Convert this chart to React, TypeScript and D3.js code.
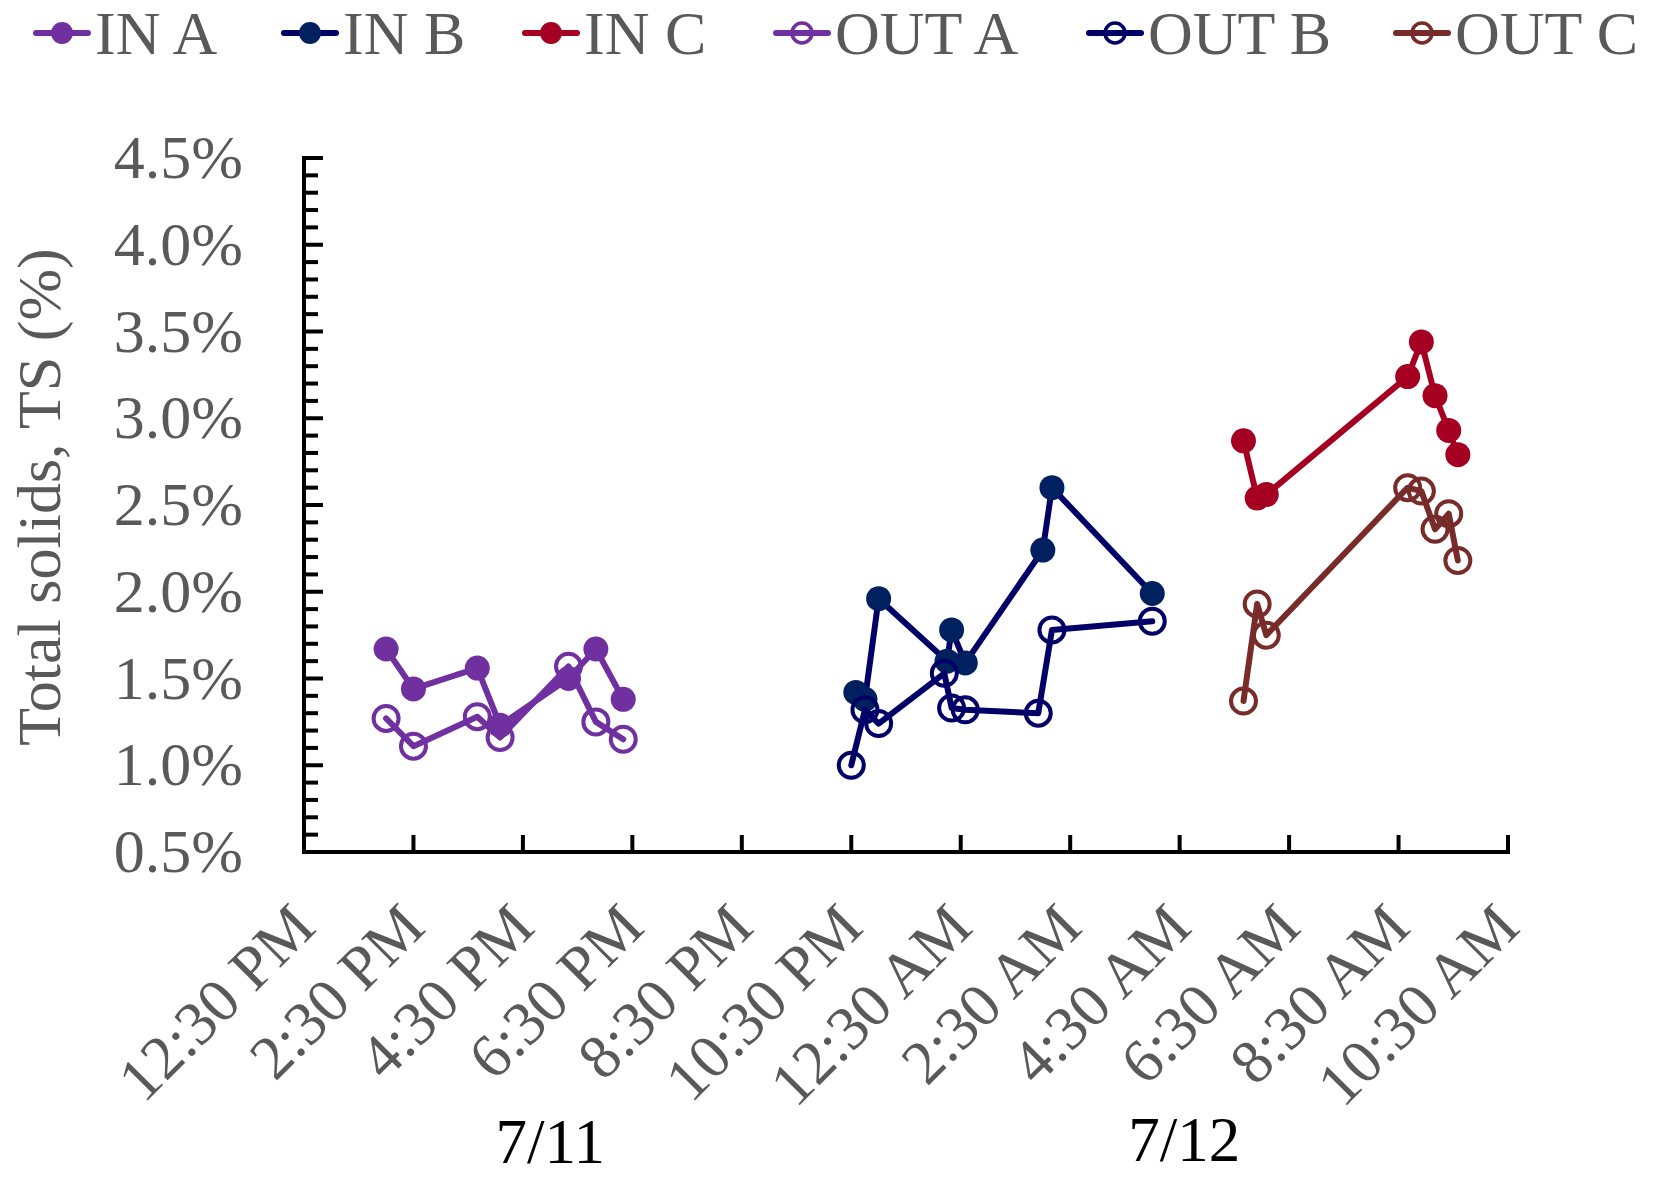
import React from "react";
import * as d3 from "d3";

// Sample times (month/day hour:minute) and total solids (%) per stream
const timesA = ["7/11 14:00", "7/11 14:30", "7/11 15:40", "7/11 16:05", "7/11 17:20", "7/11 17:50", "7/11 18:20"];
const inA = [1.67, 1.44, 1.56, 1.23, 1.5, 1.67, 1.38];
const outA = [1.27, 1.11, 1.28, 1.16, 1.57, 1.25, 1.15];

const timesInB = ["7/11 22:35", "7/11 22:45", "7/11 23:00", "7/12 00:15", "7/12 00:20", "7/12 00:35", "7/12 02:00", "7/12 02:10", "7/12 04:00"];
const inB = [1.42, 1.38, 1.96, 1.6, 1.78, 1.59, 2.24, 2.6, 1.99];
const timesOutB = ["7/11 22:30", "7/11 22:45", "7/11 23:00", "7/12 00:12", "7/12 00:20", "7/12 00:35", "7/12 01:55", "7/12 02:10", "7/12 04:00"];
const outB = [1.0, 1.32, 1.24, 1.53, 1.33, 1.32, 1.3, 1.78, 1.83];

const timesC = ["7/12 05:40", "7/12 05:55", "7/12 06:05", "7/12 08:40", "7/12 08:55", "7/12 09:10", "7/12 09:25", "7/12 09:35"];
const inC = [2.87, 2.54, 2.56, 3.24, 3.44, 3.13, 2.93, 2.79];
const outC = [1.37, 1.93, 1.75, 2.6, 2.58, 2.36, 2.45, 2.18];

const seriesNames = ["IN A", "IN B", "IN C", "OUT A", "OUT B", "OUT C"];

// Axis ticks
const xTickTimes = [
  "7/11 12:30", "7/11 14:30", "7/11 16:30", "7/11 18:30", "7/11 20:30", "7/11 22:30",
  "7/12 00:30", "7/12 02:30", "7/12 04:30", "7/12 06:30", "7/12 08:30", "7/12 10:30",
];
const yMajorTicks = [0.5, 1.0, 1.5, 2.0, 2.5, 3.0, 3.5, 4.0, 4.5];
const dayLabels = ["7/11", "7/12"];
const dayLabelTimes = ["7/11 17:00", "7/12 04:35"];

const parse = d3.timeParse("%m/%d %H:%M");
const fmtTime = d3.timeFormat("%-I:%M %p");
const fmtPct = (v: number) => d3.format(".1f")(v) + "%";

const FONT = "'Times New Roman', 'Liberation Serif', serif";
const GREY = "#595959";

type Series = {
  name: string;
  times: string[];
  values: number[];
  line: string;
  marker: string;
  open: boolean;
};

const series: Series[] = [
  { name: seriesNames[0], times: timesA, values: inA, line: "#7030A0", marker: "#7030A0", open: false },
  { name: seriesNames[1], times: timesInB, values: inB, line: "#000066", marker: "#002060", open: false },
  { name: seriesNames[2], times: timesC, values: inC, line: "#A50021", marker: "#A50021", open: false },
  { name: seriesNames[3], times: timesA, values: outA, line: "#7030A0", marker: "#7030A0", open: true },
  { name: seriesNames[4], times: timesOutB, values: outB, line: "#000066", marker: "#000066", open: true },
  { name: seriesNames[5], times: timesC, values: outC, line: "#772C2A", marker: "#772C2A", open: true },
];

const legendMarkerX = [62, 310, 551, 802, 1115, 1422];

export default function App() {
  const W = 1662;
  const H = 1177;
  const x = d3
    .scaleTime()
    .domain([parse("7/11 12:30") as Date, parse("7/12 10:30") as Date])
    .range([304, 1508]);
  const y = d3.scaleLinear().domain([0.5, 4.5]).range([852, 158]);

  const minorTicks = d3.range(5, 46).map((d) => d / 10);

  const R = 12.5;

  return (
    <svg
      width={W}
      height={H}
      style={{ position: "absolute", left: 0, top: 0, background: "#fff" }}
      fontFamily={FONT}
    >
      {/* legend */}
      {series.map((s, i) => {
        const cx = legendMarkerX[i];
        const cy = 33;
        return (
          <g key={"lg" + i}>
            <line x1={cx - 26} x2={cx + 26} y1={cy} y2={cy} stroke={s.line} strokeWidth={6} strokeLinecap="round" />
            {s.open ? (
              <circle cx={cx} cy={cy} r={10} fill="none" stroke={s.marker} strokeWidth={3.5} />
            ) : (
              <circle cx={cx} cy={cy} r={11} fill={s.marker} />
            )}
            <text x={cx + 33} y={54} fontSize={62} fill={GREY}>
              {s.name}
            </text>
          </g>
        );
      })}

      {/* y axis title */}
      <text
        transform={`translate(60,497) rotate(-90)`}
        textAnchor="middle"
        fontSize={62}
        fill={GREY}
      >
        Total solids, TS (%)
      </text>

      {/* y axis */}
      <g>
        {minorTicks.map((v, i) => {
          const major = Math.abs(v * 2 - Math.round(v * 2)) < 1e-6;
          return (
            <line
              key={"ym" + i}
              x1={304}
              x2={304 + (major ? 19 : 14)}
              y1={y(v)}
              y2={y(v)}
              stroke="#000"
              strokeWidth={4}
            />
          );
        })}
        {yMajorTicks.map((v) => (
          <text key={"yl" + v} x={243} y={y(v) + 20} textAnchor="end" fontSize={62} fill={GREY}>
            {fmtPct(v)}
          </text>
        ))}
        <line x1={304} x2={304} y1={156} y2={854} stroke="#000" strokeWidth={4} />
      </g>

      {/* x axis */}
      <g>
        {xTickTimes.map((t) => {
          const tx = x(parse(t) as Date);
          return (
            <g key={"xt" + t}>
              <line x1={tx} x2={tx} y1={852} y2={835} stroke="#000" strokeWidth={4} />
              <text
                transform={`translate(${tx + 14},${852 + 78}) rotate(-45)`}
                textAnchor="end"
                fontSize={62}
                fill={GREY}
              >
                {fmtTime(parse(t) as Date)}
              </text>
            </g>
          );
        })}
        <line x1={302} x2={1510} y1={852} y2={852} stroke="#000" strokeWidth={4} />
        {dayLabels.map((d, i) => (
          <text
            key={"day" + d}
            x={x(parse(dayLabelTimes[i]) as Date)}
            y={i === 0 ? 1163 : 1161}
            textAnchor="middle"
            fontSize={63}
            fill="#000"
          >
            {d}
          </text>
        ))}
      </g>

      {/* series */}
      {series.map((s, si) => {
        const pts = s.times.map((t, i) => [x(parse(t) as Date), y(s.values[i])] as [number, number]);
        const path = d3.line()(pts) || "";
        return (
          <g key={"s" + si}>
            <path d={path} fill="none" stroke={s.line} strokeWidth={6} strokeLinejoin="round" strokeLinecap="round" />
            {pts.map((p, i) =>
              s.open ? (
                <circle key={i} cx={p[0]} cy={p[1]} r={R} fill="none" stroke={s.marker} strokeWidth={4} />
              ) : (
                <circle key={i} cx={p[0]} cy={p[1]} r={R} fill={s.marker} />
              )
            )}
          </g>
        );
      })}
    </svg>
  );
}
